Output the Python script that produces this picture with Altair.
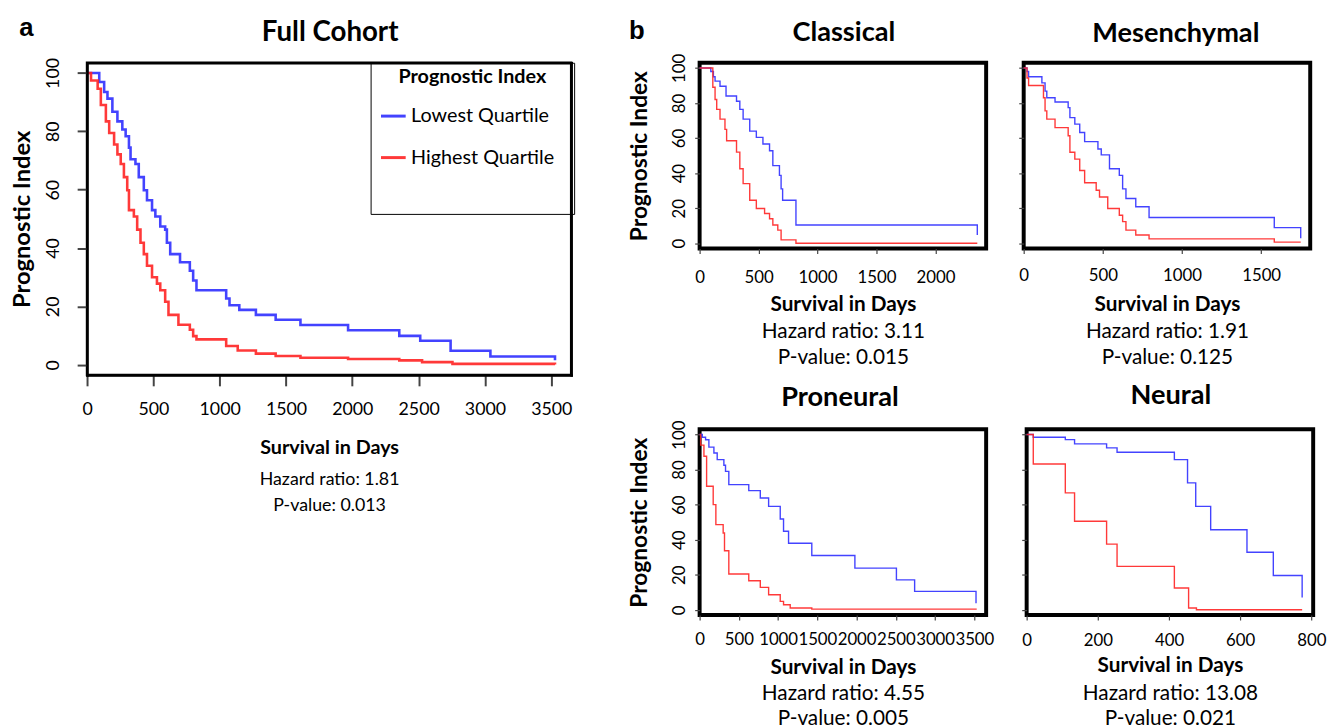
import altair as alt
import pandas as pd

FONT = "Lato"
LETTER_FONT = "Liberation Sans"
BLUE = "#2f2fff"
RED = "#ff2424"
LOW = "Lowest Quartile"
HIGH = "Highest Quartile"
BLANK = " "

# ---------------- data ----------------
# a: Full cohort
full_low_days = [0, 92, 129, 154, 191, 229, 266, 291, 316, 328, 365, 390, 428, 452, 490, 515, 552, 589, 602,
                 627, 701, 775, 800, 825, 1049, 1074, 1148, 1273, 1422, 1609, 1968, 2354, 2512, 2741, 3041, 3528]
full_low_surv = [100, 96.9, 93.5, 91.2, 86.7, 83.4, 80.6, 78.3, 74.4, 70.4, 68.8, 64.3, 59.8, 56.4, 53, 50.8,
                 47.4, 46.3, 41.8, 37.9, 35.1, 32.2, 28.9, 25.5, 22.7, 20.4, 18.8, 17.1, 15.4, 13.6, 11.8, 9.9,
                 8.2, 4.8, 2.8, 1.5]
full_high_days = [0, 30, 80, 104, 142, 167, 204, 229, 254, 278, 303, 316, 353, 378, 403, 428, 452, 490, 527, 552,
                  589, 614, 689, 775, 800, 825, 1049, 1136, 1273, 1422, 1609, 1968, 2354, 2526, 2755, 3528]
full_high_surv = [100, 97.4, 94.6, 89, 83.4, 79.4, 75.5, 72.1, 68.8, 64.3, 59.8, 53, 50.8, 46.3, 41.8, 37.9,
                  33.9, 30, 27.8, 25.5, 21.6, 17.1, 13.7, 12, 9.8, 8.7, 6.4, 4.9, 3.8, 3.0, 2.4, 2.0, 1.5, 0.9,
                  0.3, 0.1]

# b: Classical
cla_low_days = [0, 95, 117, 131, 173, 224, 313, 341, 369, 425, 481, 537, 593, 621, 677, 691, 704, 817, 2355]
cla_low_surv = [100, 98, 95, 92.5, 89.6, 84, 81, 76.4, 70.8, 64, 60.4, 56.6, 52.8, 44.3, 38.7, 31, 24.5, 10.4, 4.7]
cla_high_days = [0, 90, 112, 131, 145, 173, 215, 229, 313, 341, 369, 425, 481, 551, 593, 621, 663, 691, 817, 2355]
cla_high_surv = [100, 100, 89, 82, 76.4, 70.8, 65, 58.5, 52, 42.5, 34, 24.5, 19.8, 17, 14, 10.4, 7.5, 1.9, 0, 0]

# b: Mesenchymal
mes_low_days = [0, 21, 31, 115, 135, 146, 198, 281, 292, 323, 354, 385, 469, 490, 542, 604, 625, 646, 708, 792,
                1583, 1750]
mes_low_surv = [100, 98, 95, 91.5, 86.8, 83, 80.6, 77.4, 71.7, 68, 63.2, 58, 53.8, 50.4, 42.5, 38.7, 31, 25.5,
                20.8, 14.7, 8.9, 2.8]
mes_high_days = [0, 21, 31, 125, 135, 146, 198, 281, 292, 323, 354, 385, 458, 479, 531, 604, 625, 646, 708, 792,
                 1583, 1750]
mes_high_surv = [100, 94.3, 90, 83, 75.5, 70.8, 66, 61.3, 51.9, 48, 41.5, 34.5, 30.2, 26.4, 19.8, 16, 12.3, 7.5,
                 4.7, 2.5, 0.6, 0.6]

# b: Proneural
pro_low_days = [0, 34, 76, 118, 182, 224, 309, 330, 372, 626, 773, 879, 1027, 1069, 1133, 1429, 1978, 2507,
                2739, 3521]
pro_low_surv = [100, 98.5, 97, 92.8, 89.5, 85.7, 82.5, 79, 71.4, 68, 63.8, 59, 51.8, 44.8, 38, 31, 23.8, 17.1,
                10.5, 3.8]
pro_high_days = [0, 13, 55, 89, 173, 207, 300, 317, 372, 626, 773, 879, 1027, 1069, 1154, 1429, 3521]
pro_high_surv = [100, 94, 87.6, 70.5, 60, 48.6, 43.8, 33.7, 20.4, 16.6, 12.8, 8.6, 4.8, 2.9, 1, 0.4, 0]

# b: Neural
neu_low_days = [0, 18.6, 108.6, 134.6, 224.6, 254, 415, 452, 475, 517, 619, 693, 774]
neu_low_surv = [100, 98.5, 97.1, 94.7, 92.4, 89.9, 85.7, 72.4, 59, 45.7, 32.8, 19.6, 7]
neu_high_days = [0, 18.6, 108.6, 134.6, 224.6, 254, 415, 455, 477, 774]
neu_high_surv = [100, 83.2, 66.7, 50.5, 37.5, 24.8, 12.4, 1, 0, 0]

y_ticks = [0, 20, 40, 60, 80, 100]


def km_table(ld, ls, hd, hs):
    rows = [{"days": d, "surv": s, "group": LOW} for d, s in zip(ld, ls)]
    rows += [{"days": d, "surv": s, "group": HIGH} for d, s in zip(hd, hs)]
    return pd.DataFrame(rows)


def km_panel(df, title, title_dx, title_offset, xmax, xticks, width, height, ydom, hr, pv, y_labels,
             x_title_y, note_y, label_pad, letter=None, letter_x=-62, letter_y=-20, big=False):
    lfs = 18 if big else 17
    xs = alt.Scale(domain=[0, xmax], nice=False, zero=False)
    ys = alt.Scale(domain=ydom, nice=False, zero=False)
    frame = dict(domain=True, domainColor="black", domainWidth=2.5, domainCap="square", zindex=1) if big else \
        dict(domain=False)
    x_axis = alt.Axis(values=xticks, title="Survival in Days", titleFont=FONT, titleFontSize=20 if big else 21,
                      titleFontWeight="bold", titleColor="black", titleBaseline="alphabetic", titleY=x_title_y,
                      labelFont=FONT, labelFontSize=lfs, labelColor="black",
                      labelPadding=label_pad, tickSize=11 if big else 5,
                      tickWidth=2 if big else 1.2, tickColor="#444", grid=False,
                      labelFlush=False, labelOverlap=False, format="d", **frame)
    if y_labels:
        y_axis = alt.Axis(values=y_ticks, title="Prognostic Index", titleFont=FONT,
                          titleFontSize=24 if big else 23, titleFontWeight="bold", titleColor="black",
                          titlePadding=10 if big else 20, labelFont=FONT, labelFontSize=lfs,
                          labelColor="black", labelAngle=-90, labelPadding=15 if big else 6,
                          tickSize=10 if big else 5, tickWidth=2 if big else 1.2, tickColor="#444",
                          grid=False, labelFlush=False, labelOverlap=False, **frame)
    else:
        y_axis = alt.Axis(values=y_ticks, title=None, labels=False, tickSize=5, tickWidth=1.2,
                          tickColor="#444", domain=False, grid=False)
    if big:
        legend = alt.Legend(title="Prognostic Index", orient="none", legendX=width - 203, legendY=0,
                            titleFont=FONT, titleFontSize=20, titleFontWeight="bold", titleColor="black",
                            titleAnchor="middle", titlePadding=15, labelFont=FONT, labelFontSize=20,
                            labelColor="black", symbolType="stroke", symbolSize=625, symbolStrokeWidth=3,
                            rowPadding=18, padding=5, strokeColor="black",
                            labelOffset=4, symbolOffset=4,
                            labelExpr="datum.label + '\u2800'")
    else:
        legend = None

    lines = alt.Chart(df).mark_line(interpolate="step-after", strokeWidth=2.6 if big else 1.4,
                                    opacity=0.9).encode(
        x=alt.X("days:Q", scale=xs, axis=x_axis),
        y=alt.Y("surv:Q", scale=ys, axis=y_axis),
        color=alt.Color("group:N", scale=alt.Scale(domain=[LOW, HIGH, BLANK], range=[BLUE, RED, "#ffffff"]),
                        legend=legend),
    )

    # second, invisible layer: carries the hazard-ratio / p-value lines and the panel letter
    # (for the full cohort panel its top/right axis lines also close the frame)
    note_axis = alt.Axis(orient="top" if big else "bottom", title=[hr, pv], labels=False, ticks=False,
                         grid=False, titleFont=FONT, titleFontSize=18 if big else 21, titleFontWeight="normal",
                         titleColor="black", titleBaseline="alphabetic",
                         titleY=(height + note_y) if big else note_y, titleLineHeight=26, **frame)
    if letter:
        letter_axis = alt.Axis(orient="right" if big else "left", title=letter, titleAngle=0,
                               titleX=(letter_x - width) if big else letter_x, titleY=letter_y,
                               titleAlign="center", titleBaseline="alphabetic", titleFont=LETTER_FONT,
                               titleFontSize=26, titleFontWeight="bold", titleColor="black",
                               labels=False, ticks=False, grid=False, **frame)
    else:
        letter_axis = None
    ghost = alt.Chart(df).mark_line(opacity=0).encode(
        x=alt.X("days:Q", scale=xs, axis=note_axis),
        y=alt.Y("surv:Q", scale=ys, axis=letter_axis),
    )
    return alt.layer(lines, ghost).resolve_scale(x="independent", y="independent").properties(
        width=width, height=height,
        view=alt.ViewBackground(stroke="black", strokeWidth=2.5 if big else 4),
        title=alt.Title(title, orient="top", anchor="middle", frame="group", offset=title_offset, dx=title_dx,
                        font=FONT, fontSize=28 if big else 27.5, fontWeight="bold", color="black"),
    )


SUB_Y = [-3, 103]
full = km_panel(km_table(full_low_days, full_low_surv, full_high_days, full_high_surv), "Full Cohort", 1, -33,
                3650, [0, 500, 1000, 1500, 2000, 2500, 3000, 3500], 490, 316, [-3.5, 103.5],
                "Hazard ratio: 1.81", "P-value: 0.013", True, 80, 111, 15, letter="a", letter_y=-28, big=True)
cla = km_panel(km_table(cla_low_days, cla_low_surv, cla_high_days, cla_high_surv), "Classical", 1, -29,
               2430, [0, 500, 1000, 1500, 2000], 290, 188, SUB_Y, "Hazard ratio: 3.11", "P-value: 0.015",
               True, 63, 90, 16, letter="b", letter_x=-64, letter_y=-25)
mes = km_panel(km_table(mes_low_days, mes_low_surv, mes_high_days, mes_high_surv), "Mesenchymal", 9, 16,
               1810, [0, 500, 1000, 1500], 290, 188, SUB_Y, "Hazard ratio: 1.91", "P-value: 0.125",
               False, 63, 90, 14)
pro = km_panel(km_table(pro_low_days, pro_low_surv, pro_high_days, pro_high_surv), "Proneural", -3, 9,
               3650, [0, 500, 1000, 1500, 2000, 2500, 3000, 3500], 290, 188, SUB_Y,
               "Hazard ratio: 4.55", "P-value: 0.005", True, 59, 85, 12)
neu = km_panel(km_table(neu_low_days, neu_low_surv, neu_high_days, neu_high_surv), "Neural", 1, 20,
               805, [0, 200, 400, 600, 800], 290, 188, SUB_Y, "Hazard ratio: 13.08", "P-value: 0.021",
               False, 57, 85, 13)

row1 = alt.hconcat(cla, mes, spacing=28)
row2 = alt.hconcat(pro, neu, spacing=23)
panel_b = alt.vconcat(row1, row2, spacing=11)

chart = alt.concat(full, panel_b, columns=2, align="none", spacing=51).resolve_scale(
    color="independent").resolve_legend(color="independent").properties(
    padding={"left": 1, "top": 0, "right": 0, "bottom": 0}).configure(font=FONT)

chart.save("out.html", embed_options={"renderer": "svg", "actions": False})
